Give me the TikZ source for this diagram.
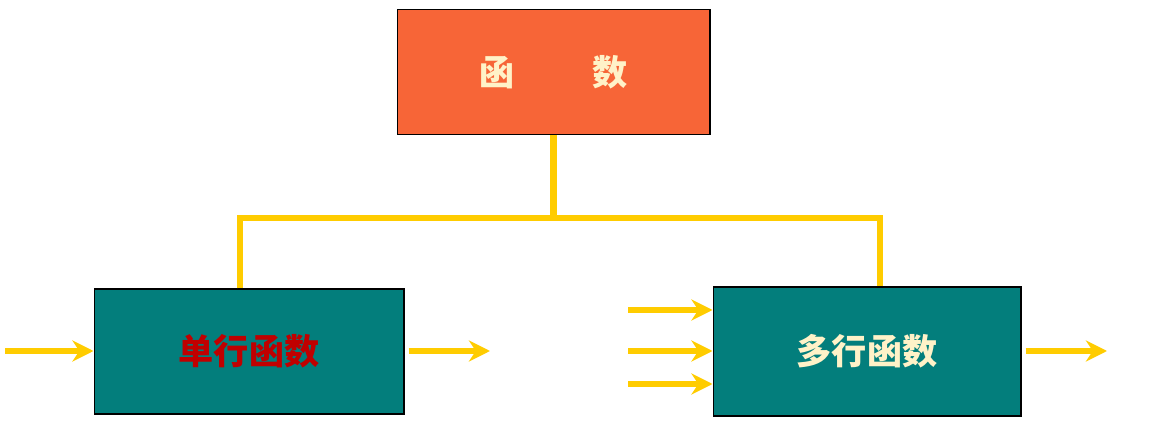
\documentclass[tikz,border=0pt]{standalone}
\usepackage{fontspec}
\newfontfamily\cjk{Noto Sans CJK SC}
\usetikzlibrary{arrows.meta,shadows}
\definecolor{boxorange}{HTML}{F76537}
\definecolor{boxteal}{HTML}{037E7C}
\definecolor{linkyellow}{HTML}{FFCC00}
\definecolor{textcream}{HTML}{FFF2C8}
\definecolor{textred}{HTML}{C00000}
\tikzset{
	funcbox/.style={draw=black, line width=0.6pt, minimum width=6.2cm, minimum height=2.5cm, inner sep=0pt, font=\cjk\bfseries\fontsize{20}{24}\selectfont},
	link/.style={draw=linkyellow, line width=3.5pt},
	flow/.style={draw=linkyellow, line width=3pt, -{Stealth[length=12pt,width=12pt]}}
}
\begin{document}
\begin{tikzpicture}[x=0.02cm, y=-0.02cm]
	\useasboundingbox (0,0) rectangle (1155,428);
	% boxes
	\node[funcbox, fill=boxorange, minimum width=6.26cm, text=textcream] (top) at (553.5,72) {函\hspace{2.2em}数};
	\node[funcbox, fill=boxteal, text=textred] (single) at (249,351.5) {单行函数};
	\node[funcbox, fill=boxteal, minimum width=6.16cm, minimum height=2.58cm, text=textcream] (multi) at (867,351.5) {多行函数};
	
	% tree links
	\coordinate (mid) at (553.5,218);
	\draw[link] (top.south) -- (mid);
	\draw[link] (single.north -| 240,0) |- (mid) -| (multi.north -| 880,0);
	
	% input and output arrows
	\coordinate (sin) at (5,351);
	\coordinate (sout) at (490,351);
	\draw[flow] (sin) -- (single.west |- sin);
	\draw[flow] (single.east |- sout) ++(4,0) -- (sout);
	\foreach \y in {310,351,384} {
		\coordinate (min\y) at (628,\y);
		\draw[flow] (min\y) -- (multi.west |- min\y);
	}
	\coordinate (mout) at (1107,351);
	\draw[flow] (multi.east |- mout) ++(4,0) -- (mout);
\end{tikzpicture}
\end{document}
